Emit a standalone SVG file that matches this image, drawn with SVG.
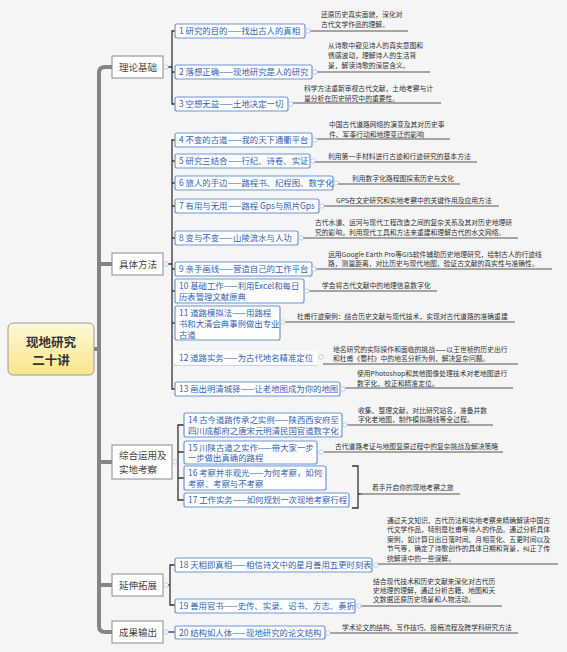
<svg xmlns="http://www.w3.org/2000/svg" width="567" height="652" viewBox="0 0 567 652">
<defs>
<linearGradient id="rootg" x1="0" y1="0" x2="0" y2="1">
<stop offset="0" stop-color="#fdf8d8"/>
<stop offset="1" stop-color="#f7e68a"/>
</linearGradient>
<style>
text{font-family:"Noto Sans CJK SC","Liberation Sans",sans-serif;}
.root rect{fill:url(#rootg);stroke:#9a9a9a;stroke-width:1;}
.root text{font-size:12.5px;font-weight:bold;fill:#333;text-anchor:middle;}
.l1 rect{fill:#fff;stroke:#8a8a8a;stroke-width:1;}
.l1 text{font-size:9.5px;fill:#444;}
.l2 rect{fill:#fff;stroke:#6f97d8;stroke-width:1.2;}
.l2 text{font-size:8.4px;fill:#2f62b5;}
.desc text{font-size:6.8px;fill:#333;}
.ul{stroke:#8a8a8a;stroke-width:1.5;fill:none;}
.trunk{stroke:#858585;stroke-width:4;fill:none;}
.br{stroke:#333;stroke-width:1.3;fill:none;}
.dot{fill:#fff;stroke:#aac0e6;stroke-width:0.8;}
</style>
</defs>
<rect width="567" height="652" fill="#f5f5f5"/>

<g id="connectors">
<path class="trunk" d="M94,349 H99 M105,67 H112 M99,73 Q99,67 105,67 M99,73 V626 Q99,632 105,632 H112 M99,264 H112 M99,462 H112 M99,585 H112"/>
<path class="br" d="M166,67 H172 M175,31 H172 V104 H175 M172,72 H175"/>
<path class="br" d="M166,264 H172 M175,140 H172 V389 H175 M172,161 H175 M172,183 H175 M172,206 H175 M172,238 H175 M172,269 H175 M172,291 H175 M172,323 H175"/>
<path d="M172,365 H317" stroke="#9db5e0" stroke-width="1.2" fill="none"/>
<path class="br" d="M175,462 H178 M184,425 H178 V500 H184 M178,452 H184 M178,478 H184"/>
<path class="br" d="M166,585 H170 M175,565 H170 V605 H175"/>
<path class="br" d="M166,632 H175"/>
<path class="br" d="M352,466 H358 V508 H352 M358,494 H362"/>
<path class="ul" d="M310,31 H408 M316,72 H430 M292,103 H441 M317,139 H450 M313,162 H477 M338,184 H460 M322,206 H499 M300,238 H518 M314,269 H552 M309,291 H437 M282,322 H515 M323,364 H518 M345,388 H513 M347,425 H493 M324,452 H503 M360,494 H460 M378,564 H558 M361,606 H502 M330,633 H518"/>
</g>

<g id="root" class="root">
<rect x="8" y="323" width="86" height="52" rx="5"/>
<text x="51" y="347">现地研究</text>
<text x="51" y="365">二十讲</text>
</g>

<g id="n-lilun" class="l1"><rect x="112" y="56" width="51" height="22"/><text x="119" y="70.5">理论基础</text><circle class="dot" cx="166" cy="67" r="2.2"/></g>
<g id="n-juti" class="l1"><rect x="112" y="253" width="51" height="22"/><text x="119" y="267.5">具体方法</text><circle class="dot" cx="166" cy="264" r="2.2"/></g>
<g id="n-zonghe" class="l1"><rect x="112" y="445" width="60" height="34"/><text x="119" y="459">综合运用及</text><text x="119" y="473">实地考察</text><circle class="dot" cx="175" cy="462" r="2.2"/></g>
<g id="n-yanshen" class="l1"><rect x="112" y="574" width="51" height="22"/><text x="119" y="588.5">延伸拓展</text><circle class="dot" cx="166" cy="585" r="2.2"/></g>
<g id="n-chengguo" class="l1"><rect x="112" y="621" width="51" height="22"/><text x="119" y="635.5">成果输出</text><circle class="dot" cx="166" cy="632" r="2.2"/></g>

<g id="n1" class="l2"><rect x="175" y="24" width="130" height="14" rx="2"/><text x="179" y="34">1 研究的目的——找出古人的真相</text><circle class="dot" cx="308" cy="31" r="2.2"/></g>
<g id="n2" class="l2"><rect x="175" y="65" width="137" height="14" rx="2"/><text x="179" y="75">2 落想正确——现地研究是人的研究</text><circle class="dot" cx="315" cy="72" r="2.2"/></g>
<g id="n3" class="l2"><rect x="175" y="97" width="113" height="14" rx="2"/><text x="179" y="107">3 空想无益——土地决定一切</text><circle class="dot" cx="291" cy="104" r="2.2"/></g>
<g id="n4" class="l2"><rect x="175" y="133" width="137" height="14" rx="2"/><text x="179" y="143">4 不变的古道——我的天下通衢平台</text><circle class="dot" cx="315" cy="140" r="2.2"/></g>
<g id="n5" class="l2"><rect x="175" y="154" width="135" height="14" rx="2"/><text x="179" y="164">5 研究三结合——行纪、诗卷、实证</text><circle class="dot" cx="313" cy="161" r="2.2"/></g>
<g id="n6" class="l2"><rect x="175" y="176" width="158" height="14" rx="2"/><text x="179" y="186">6 旅人的手边——路程书、纪程图、数字化</text><circle class="dot" cx="336" cy="183" r="2.2"/></g>
<g id="n7" class="l2"><rect x="175" y="199" width="144" height="14" rx="2"/><text x="179" y="209">7 有用与无用——路程 Gps与照片Gps</text><circle class="dot" cx="322" cy="206" r="2.2"/></g>
<g id="n8" class="l2"><rect x="175" y="231" width="123" height="14" rx="2"/><text x="179" y="241">8  变与不变——山陵流水与人功</text><circle class="dot" cx="301" cy="238" r="2.2"/></g>
<g id="n9" class="l2"><rect x="175" y="262" width="137" height="14" rx="2"/><text x="179" y="272">9 亲手画线——营造自己的工作平台</text><circle class="dot" cx="314" cy="269" r="2.2"/></g>
<g id="n10" class="l2"><rect x="175" y="279" width="129" height="24" rx="2"/><text x="179" y="289">10 基础工作——利用Excel和每日</text><text x="179" y="300">历表管理文献原典</text><circle class="dot" cx="307" cy="291" r="2.2"/></g>
<g id="n11" class="l2"><rect x="175" y="306" width="105" height="34" rx="2"/><text x="179" y="316">11 道路模拟法——用路程</text><text x="179" y="327">书和大清会典事例做出专业</text><text x="179" y="338">古道</text><circle class="dot" cx="283" cy="322" r="2.2"/></g>
<g id="n12" class="l2"><rect x="175" y="351" width="142" height="14" style="stroke:none"/><text x="179" y="361">12 道路实务——为古代地名精准定位</text><circle class="dot" cx="321" cy="357" r="2.2"/></g>
<g id="n13" class="l2"><rect x="175" y="382" width="165" height="14" rx="2"/><text x="179" y="392">13 画出明清城驿——让老地图成为你的地图</text><circle class="dot" cx="343" cy="389" r="2.2"/></g>
<g id="n14" class="l2"><rect x="184" y="413" width="158" height="24" rx="2"/><text x="188" y="423">14 古今道路传承之实例——陕西西安府至</text><text x="188" y="434">四川成都府之唐宋元明清民国官道数字化</text><circle class="dot" cx="345" cy="425" r="2.2"/></g>
<g id="n15" class="l2"><rect x="184" y="441" width="133" height="23" rx="2"/><text x="188" y="450.5">15 川陕古道之实作——带大家一步</text><text x="188" y="461">一步做出真确的路程</text><circle class="dot" cx="321" cy="452" r="2.2"/></g>
<g id="n16" class="l2"><rect x="184" y="466" width="142" height="24" rx="2"/><text x="188" y="476">16 考察并非观光——为何考察，如何</text><text x="188" y="487">考察、考察与不考察</text></g>
<g id="n17" class="l2"><rect x="184" y="493" width="165" height="14" rx="2"/><text x="188" y="503">17 工作实务——如何规划一次现地考察行程</text></g>
<g id="n18" class="l2"><rect x="175" y="558" width="197" height="14" rx="2"/><text x="179" y="568">18 天相即真相——相信诗文中的星月善用五更时刻表</text><circle class="dot" cx="376" cy="565" r="2.2"/></g>
<g id="n19" class="l2"><rect x="175" y="599" width="180" height="14" rx="2"/><text x="179" y="609">19 善用官书——史传、实录、诏书、方志、奏折</text><circle class="dot" cx="359" cy="606" r="2.2"/></g>
<g id="n20" class="l2"><rect x="175" y="626" width="150" height="13" rx="2"/><text x="179" y="635.5">20 结构如人体——现地研究的论文结构</text><circle class="dot" cx="328" cy="633" r="2.2"/></g>

<g id="descs" class="desc">
<text x="321" y="17">还原历史真实面貌，深化对</text>
<text x="321" y="27">古代文学作品的理解。</text>
<text x="328" y="48">从诗歌中窥见诗人的真实意图和</text>
<text x="328" y="58">情感波动，理解诗人的生活背</text>
<text x="328" y="68">景，解读诗歌的深层含义。</text>
<text x="304" y="91">科学方法重新审视古代文献，土地考察与计</text>
<text x="304" y="101">量分析在历史研究中的重要性。</text>
<text x="329" y="127">中国古代道路网络的演变及其对历史事</text>
<text x="329" y="137">件、军事行动和地理变迁的影响</text>
<text x="328" y="159">利用第一手材料进行古迹和行迹研究的基本方法</text>
<text x="352" y="181">利用数字化路程图探索历史与文化</text>
<text x="336" y="203">GPS在文史研究和实地考察中的关键作用及应用方法</text>
<text x="315" y="225">古代水道、运河与现代工程改造之间的复杂关系及其对历史地理研</text>
<text x="315" y="235">究的影响，利用现代工具和方法来重建和理解古代的水文网络。</text>
<text x="328" y="257">运用Google Earth Pro等GIS软件辅助历史地理研究，绘制古人的行迹线</text>
<text x="328" y="266">路，测量距离，对比历史与现代地图，验证古文献的真实性与准确性。</text>
<text x="322" y="288">学会将古代文献中的地理信息数字化</text>
<text x="297" y="319">杜甫行迹案例：结合历史文献与现代技术，实现对古代道路的准确重建</text>
<text x="333" y="352">地名研究的实际操作和面临的挑战——以王世祯的历史出行</text>
<text x="333" y="361">和杜甫《蜀村》中的地名分析为例，解决复杂问题。</text>
<text x="357" y="376">使用Photoshop和其他图像处理技术对老地图进行</text>
<text x="357" y="386">数字化、校正和精准定位。</text>
<text x="358" y="413">收集、整理文献，对比研究站名，准备并数</text>
<text x="358" y="422">字化老地图，制作模拟路线等全过程。</text>
<text x="335" y="449">古代道路考证与地图复原过程中的复杂挑战及解决策略</text>
<text x="372" y="490">着手开启你的现地考察之旅</text>
<text x="387" y="523">通过天文知识、古代历法和实地考察来精确解读中国古</text>
<text x="387" y="532">代文学作品，特别是杜甫等诗人的作品。通过分析具体</text>
<text x="387" y="542">案例，如计算日出日落时间、月相变化、五更时间以及</text>
<text x="387" y="551">节气等，确定了诗歌创作的具体日期和背景，纠正了传</text>
<text x="387" y="561">统解读中的一些误解。</text>
<text x="373" y="584">结合现代技术和历史文献来深化对古代历</text>
<text x="373" y="593">史地理的理解，通过分析古籍、地图和天</text>
<text x="373" y="602">文数据还原历史场景和人物活动。</text>
<text x="342" y="630">学术论文的结构、写作技巧、投稿流程及跨学科研究方法</text>
</g>
</svg>
